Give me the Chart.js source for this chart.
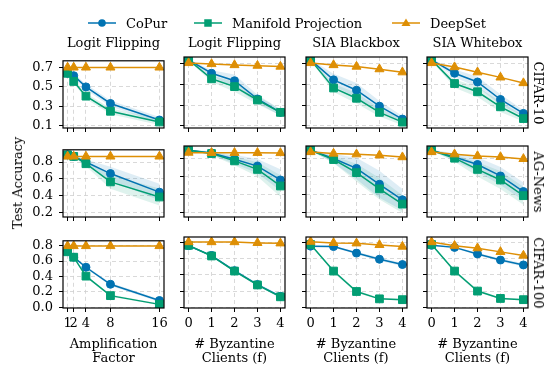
<!DOCTYPE html>
<html>
<head>
<meta charset="utf-8">
<script src="https://cdn.jsdelivr.net/npm/chart.js@4"></script>
<style>
body { margin: 0; background: #fff; width: 559px; height: 378px; position: relative; overflow: hidden;
       font-family: "DejaVu Serif", serif; font-size: 13px; color: #000; }
canvas { position: absolute; }
.lbl { position: absolute; white-space: nowrap; line-height: 14px; text-align: center; }
.leg { position: absolute; top: 15px; height: 16px; display: flex; align-items: center; }
</style>
</head>
<body>
<script>
const colTitles = ['Logit Flipping', 'Logit Flipping', 'SIA Blackbox', 'SIA Whitebox']
const rowTitles = ['CIFAR-10', 'AG-News', 'CIFAR-100']
const xTitles = [['Amplification', 'Factor'], ['# Byzantine', 'Clients (f)'], ['# Byzantine', 'Clients (f)'], ['# Byzantine', 'Clients (f)']]
const seriesNames = ['CoPur', 'Manifold Projection', 'DeepSet']

const ampFactor = [1, 2, 4, 8, 16]
const byzClients = [0, 1, 2, 3, 4]
const xValues = [ampFactor, byzClients, byzClients, byzClients]
const xRange = [[0.25, 16.75], [-0.2, 4.2], [-0.2, 4.2], [-0.2, 4.2]]
const yTicks = [[0.1, 0.3, 0.5, 0.7], [0.2, 0.4, 0.6, 0.8], [0.0, 0.2, 0.4, 0.6, 0.8]]
const yRange = [[0.078, 0.768], [0.152, 0.944], [-0.007, 0.862]]

// test accuracy: [row][column][point]
const copur = [
  [[0.64, 0.615, 0.50, 0.33, 0.16], [0.74, 0.61, 0.537, 0.36, 0.23], [0.74, 0.546, 0.445, 0.29, 0.165], [0.74, 0.61, 0.525, 0.355, 0.22]],
  [[0.885, 0.866, 0.80, 0.664, 0.445], [0.896, 0.866, 0.797, 0.72, 0.565], [0.896, 0.804, 0.694, 0.517, 0.344], [0.896, 0.822, 0.738, 0.61, 0.436]],
  [[0.745, 0.65, 0.52, 0.30, 0.09], [0.755, 0.635, 0.45, 0.28, 0.136], [0.75, 0.745, 0.665, 0.59, 0.525], [0.76, 0.735, 0.655, 0.58, 0.52]]
]
const manifold = [
  [[0.64, 0.556, 0.405, 0.25, 0.14], [0.74, 0.556, 0.48, 0.35, 0.23], [0.74, 0.467, 0.367, 0.23, 0.135], [0.74, 0.51, 0.43, 0.284, 0.17]],
  [[0.885, 0.866, 0.78, 0.566, 0.388], [0.896, 0.86, 0.778, 0.683, 0.498], [0.896, 0.793, 0.647, 0.466, 0.296], [0.896, 0.808, 0.683, 0.565, 0.39]],
  [[0.72, 0.65, 0.405, 0.153, 0.04], [0.76, 0.63, 0.445, 0.275, 0.13], [0.77, 0.445, 0.195, 0.105, 0.095], [0.77, 0.445, 0.20, 0.11, 0.095]]
]
const deepset = [
  [[0.70, 0.70, 0.70, 0.70, 0.70], [0.71, 0.70, 0.69, 0.684, 0.675], [0.71, 0.69, 0.675, 0.65, 0.62], [0.71, 0.67, 0.62, 0.57, 0.515]],
  [[0.866, 0.866, 0.866, 0.866, 0.866], [0.87, 0.868, 0.868, 0.868, 0.866], [0.877, 0.86, 0.852, 0.84, 0.82], [0.877, 0.852, 0.833, 0.822, 0.80]],
  [[0.795, 0.795, 0.795, 0.795, 0.795], [0.80, 0.80, 0.80, 0.79, 0.785], [0.805, 0.79, 0.785, 0.765, 0.745], [0.80, 0.755, 0.725, 0.68, 0.635]]
]
// spread (std) shown as shaded bands
const copurStd = [
  [[0.01, 0.02, 0.03, 0.03, 0.03], [0.005, 0.03, 0.06, 0.04, 0.03], [0.005, 0.06, 0.07, 0.05, 0.03], [0.005, 0.04, 0.05, 0.05, 0.03]],
  [[0.005, 0.01, 0.03, 0.08, 0.10], [0.005, 0.02, 0.05, 0.08, 0.12], [0.005, 0.05, 0.12, 0.15, 0.12], [0.005, 0.04, 0.08, 0.10, 0.10]],
  [[0.01, 0.01, 0.015, 0.02, 0.02], [0.01, 0.01, 0.015, 0.015, 0.015], [0.01, 0.01, 0.015, 0.02, 0.02], [0.01, 0.01, 0.015, 0.02, 0.02]]
]
const manifoldStd = [
  [[0.01, 0.02, 0.03, 0.03, 0.03], [0.005, 0.03, 0.05, 0.04, 0.03], [0.005, 0.04, 0.05, 0.04, 0.03], [0.005, 0.04, 0.05, 0.05, 0.03]],
  [[0.005, 0.01, 0.03, 0.08, 0.10], [0.005, 0.02, 0.05, 0.08, 0.12], [0.005, 0.04, 0.10, 0.12, 0.10], [0.005, 0.04, 0.08, 0.10, 0.10]],
  [[0.01, 0.01, 0.015, 0.015, 0.01], [0.01, 0.01, 0.015, 0.015, 0.015], [0.01, 0.02, 0.015, 0.01, 0.01], [0.01, 0.02, 0.015, 0.01, 0.01]]
]

const colors = ['#0173b2', '#029e73', '#de8f05']
const bandColors = ['rgba(1,115,178,0.13)', 'rgba(2,158,115,0.13)']
const markers = [['circle', 4], ['rect', 5.5], ['triangle', 5.2]]

const plotLeft = [63, 184, 305.5, 427]
const plotTop = [57, 146, 237]
const plotW = 101, plotH = 71
const padL = 45, padT = 10, padR = 12, padB = 30

const frame = {
  id: 'frame',
  afterDraw(chart) {
    const a = chart.chartArea, ctx = chart.ctx
    ctx.save()
    ctx.strokeStyle = '#000'
    ctx.lineWidth = 1.2
    ctx.strokeRect(a.left, a.top, a.right - a.left, a.bottom - a.top)
    ctx.restore()
  }
}

function pts(xs, ys) { return xs.map((x, i) => ({ x, y: ys[i] })) }

function addText(lines, x, y, rot) {
  const d = document.createElement('div')
  d.className = 'lbl'
  d.innerHTML = [].concat(lines).join('<br>')
  d.style.left = x + 'px'
  d.style.top = y + 'px'
  d.style.transform = 'translate(-50%,-50%)' + (rot ? ` rotate(${rot}deg)` : '')
  document.body.appendChild(d)
}

const font = { family: 'DejaVu Serif', size: 13 }

for (let r = 0; r < 3; r++) {
  for (let c = 0; c < 4; c++) {
    const cv = document.createElement('canvas')
    cv.width = plotW + padL + padR
    cv.height = plotH + padT + padB
    cv.style.left = (plotLeft[c] - padL) + 'px'
    cv.style.top = (plotTop[r] - padT) + 'px'
    document.body.appendChild(cv)

    const xs = xValues[c]
    const datasets = []
    ;[[copur, copurStd], [manifold, manifoldStd]].forEach(([mean, sd], k) => {
      const m = mean[r][c], s = sd[r][c]
      datasets.push({ data: pts(xs, m.map((v, i) => v - s[i])), borderWidth: 0, pointRadius: 0, fill: false, order: 10 })
      datasets.push({ data: pts(xs, m.map((v, i) => v + s[i])), borderWidth: 0, pointRadius: 0, fill: '-1', backgroundColor: bandColors[k], order: 10 })
    })
    ;[copur, manifold, deepset].forEach((series, k) => {
      datasets.push({
        label: seriesNames[k],
        data: pts(xs, series[r][c]),
        borderColor: colors[k],
        backgroundColor: colors[k],
        borderWidth: 1.5,
        pointStyle: markers[k][0],
        pointRadius: markers[k][1],
        pointBorderWidth: 1,
        fill: false,
        order: 3 - k
      })
    })

    const gridOpts = { color: '#cfcfcf', lineWidth: 0.8, tickColor: '#000', tickLength: 4, tickWidth: 1 }
    new Chart(cv, {
      type: 'line',
      data: { datasets },
      plugins: [frame],
      options: {
        responsive: false,
        animation: false,
        devicePixelRatio: 1,
        layout: { padding: { top: padT, right: padR, left: 0, bottom: 0 } },
        plugins: { legend: { display: false }, tooltip: { enabled: false } },
        scales: {
          x: {
            type: 'linear', min: xRange[c][0], max: xRange[c][1],
            afterBuildTicks: s => { s.ticks = xs.map(v => ({ value: v })) },
            afterFit: s => { s.height = padB },
            grid: gridOpts,
            border: { display: false, dash: [4, 3] },
            ticks: { display: r === 2, color: '#000', font, padding: 4, autoSkip: false, maxRotation: 0, callback: v => String(v) }
          },
          y: {
            min: yRange[r][0], max: yRange[r][1],
            afterBuildTicks: s => { s.ticks = yTicks[r].map(v => ({ value: v })) },
            afterFit: s => { s.width = padL },
            grid: gridOpts,
            border: { display: false, dash: [4, 3] },
            ticks: { display: c === 0, color: '#000', font, padding: 6, autoSkip: false, callback: v => Number(v).toFixed(1) }
          }
        }
      }
    })

    if (r === 0) addText(colTitles[c], plotLeft[c] + plotW / 2, 43)
    if (r === 2) addText(xTitles[c], plotLeft[c] + plotW / 2, 351)
  }
  addText(rowTitles[r], 538, plotTop[r] + plotH / 2, 90)
}
addText('Test Accuracy', 18, 183, -90)

// legend
const legX = [88, 194, 392]
seriesNames.forEach((name, k) => {
  const d = document.createElement('div')
  d.className = 'leg'
  d.style.left = legX[k] + 'px'
  let mk
  if (k === 0) mk = `<circle cx="14" cy="8" r="3.8" fill="${colors[k]}"/>`
  else if (k === 1) mk = `<rect x="10.25" y="4.25" width="7.5" height="7.5" fill="${colors[k]}"/>`
  else mk = `<polygon points="14,3.5 18.5,11 9.5,11" fill="${colors[k]}"/>`
  d.innerHTML = `<svg width="28" height="16"><line x1="0" y1="8" x2="28" y2="8" stroke="${colors[k]}" stroke-width="1.5"/>${mk}</svg><span style="margin-left:10px">${name}</span>`
  document.body.appendChild(d)
})
</script>
</body>
</html>
